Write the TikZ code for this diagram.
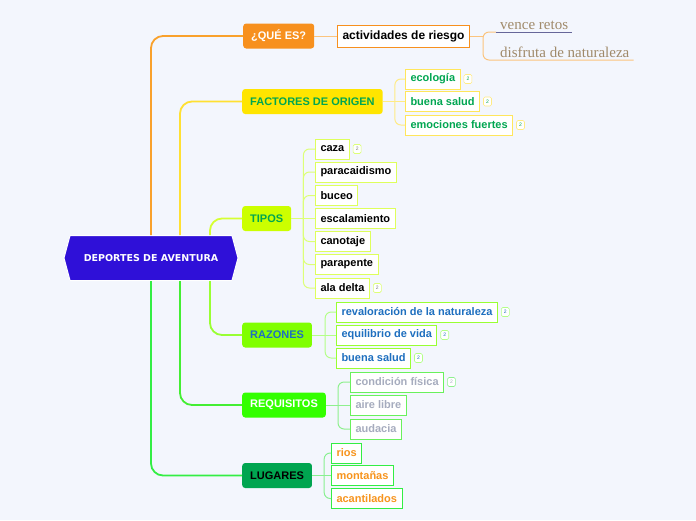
\documentclass[tikz,border=0pt]{standalone}
\usepackage{fontspec}
\setmainfont{Liberation Sans}
\newfontfamily\hubfont{DejaVu Sans}
\newfontfamily\notefont{Liberation Serif}
\usetikzlibrary{shapes.symbols,positioning}

\definecolor{bgblue}{HTML}{F3F6FD}
\definecolor{hubblue}{HTML}{2F10D8}
\definecolor{queorange}{HTML}{F7901E}
\definecolor{queline}{HTML}{F9A12C}
\definecolor{quetwig}{HTML}{FBC47E}
\definecolor{facyellow}{HTML}{FFE500}
\definecolor{facline}{HTML}{FFE033}
\definecolor{factwig}{HTML}{FFEB85}
\definecolor{tiplime}{HTML}{CCFF00}
\definecolor{tipline}{HTML}{D6FF33}
\definecolor{tiptwig}{HTML}{DDFF77}
\definecolor{razgreen}{HTML}{80FF00}
\definecolor{razline}{HTML}{99FF33}
\definecolor{raztwig}{HTML}{B4FF88}
\definecolor{reqgreen}{HTML}{33FF00}
\definecolor{reqline}{HTML}{44EE33}
\definecolor{reqtwig}{HTML}{8EF08E}
\definecolor{lugdark}{HTML}{00A550}
\definecolor{lugline}{HTML}{33EE44}
\definecolor{lugtwig}{HTML}{88F090}
\definecolor{txtgreen}{HTML}{00A651}
\definecolor{txtblue}{HTML}{1E6FBF}
\definecolor{txtgray}{HTML}{A6ACBE}
\definecolor{txtorange}{HTML}{F7941D}
\definecolor{txttan}{HTML}{A08A6A}

\begin{document}
\begin{tikzpicture}[x=1pt,y=-1pt,
  hub/.style={signal,signal to=west and east,signal pointer angle=150,fill=hubblue,draw=white,line width=1pt,
    minimum width=174,minimum height=45,inner sep=0pt,text=white,font=\hubfont\bfseries\fontsize{9.5}{11}\selectfont},
  branch/.style={rounded corners=3pt,minimum height=25,inner xsep=8pt,anchor=west,font=\bfseries\fontsize{11}{13}\selectfont},
  leaf/.style={draw,fill=white,line width=1pt,minimum height=20,inner xsep=5pt,inner ysep=0pt,anchor=west,font=\bfseries\fontsize{11}{13}\selectfont},
  facleaf/.style={leaf,draw=facline!80,text=txtgreen},
  tipleaf/.style={leaf,draw=tipline!80,text=black},
  razleaf/.style={leaf,draw=razline,text=txtblue},
  reqleaf/.style={leaf,draw=reqline!80,text=txtgray},
  lugleaf/.style={leaf,draw=lugline,text=txtorange},
  badge/.style={draw,fill=white,rounded corners=1.5pt,minimum width=8,minimum height=9,inner sep=0pt,line width=0.6pt,
    font=\fontsize{5}{5}\selectfont,right=3pt of #1},
  note/.style={anchor=south west,inner xsep=4pt,inner ysep=2pt,text=txttan,font=\notefont\fontsize{15}{17}\selectfont},
  spine/.style={line width=1.8pt,rounded corners=12pt},
  twig/.style={line width=1pt,rounded corners=6pt}
]
  \fill[bgblue] (0,0) rectangle (696,520);
  \useasboundingbox (0,0) rectangle (696,520);

  % Central topic
  \node[hub] (hub) at (151,258) {DEPORTES DE AVENTURA};

  % Main branches
  \node[branch,fill=queorange,text=white]    (que) at (243,36)    {¿QUÉ ES?};
  \node[branch,fill=facyellow,text=txtgreen] (fac) at (242,101.5) {FACTORES DE ORIGEN};
  \node[branch,fill=tiplime,text=txtgreen]   (tip) at (242,218.5) {TIPOS};
  \node[branch,fill=razgreen,text=txtblue]   (raz) at (242,335)   {RAZONES};
  \node[branch,fill=reqgreen,text=white]     (req) at (242,405)   {REQUISITOS};
  \node[branch,fill=lugdark,text=black]      (lug) at (242,475.5) {LUGARES};

  % Spines from the centre
  \draw[spine,queline] (hub.north) |- (que.west);
  \draw[spine,facline] ([xshift=29]hub.north) |- (fac.west);
  \draw[spine,tipline] ([xshift=59]hub.north) |- (tip.west);
  \draw[spine,razline] ([xshift=59]hub.south) |- (raz.west);
  \draw[spine,reqline] ([xshift=29]hub.south) |- (req.west);
  \draw[spine,lugline] (hub.south) |- (lug.west);

  % ¿QUÉ ES?
  \node[leaf,draw=queorange,text=black,minimum height=22,font=\bfseries\fontsize{12}{14}\selectfont] (act) at (337,36) {actividades de riesgo};
  \node[note] (vence) at (496,32) {vence retos};
  \node[note] (disf)  at (496,60) {disfruta de naturaleza};
  \coordinate (act-j) at ([xshift=13]act.east);
  \draw[twig,quetwig] (que.east) -- (act.west);
  \draw[twig,quetwig] (act.east) -- (act-j);
  \draw[twig,quetwig] (vence.south west) -- (vence.south west -| act-j) -- (disf.south west -| act-j) -- (disf.south east);
  \draw[gray!80!blue,line width=1pt] (vence.south west) -- (vence.south east);

  % FACTORES DE ORIGEN
  \node[facleaf] (eco)  at (405,79)    {ecología};
  \node[facleaf] (bsal) at (405,101.5) {buena salud};
  \node[facleaf] (emo)  at (405,125)   {emociones fuertes};
  \coordinate (fac-j) at ([xshift=12]fac.east);
  \draw[twig,factwig] (fac.east) -- (bsal.west);
  \foreach \c in {eco,emo}{
    \draw[twig,factwig] (fac-j) |- (\c.west);
  }
  \foreach \c in {eco,bsal,emo}{
    \node[badge=\c,draw=factwig,text=txtgreen] (\c-n) {2};
  }

  % TIPOS
  \node[tipleaf] (caza) at (315,149)   {caza};
  \node[tipleaf] (para) at (315,172)   {paracaidismo};
  \node[tipleaf] (buce) at (315,195.5) {buceo};
  \node[tipleaf] (esca) at (315,218.5) {escalamiento};
  \node[tipleaf] (cano) at (315,241.5) {canotaje};
  \node[tipleaf] (parp) at (315,264.5) {parapente};
  \node[tipleaf] (alad) at (315,288)   {ala delta};
  \coordinate (tip-j) at ([xshift=12]tip.east);
  \draw[twig,tiptwig] (tip.east) -- (esca.west);
  \foreach \c in {caza,para,buce,cano,parp,alad}{
    \draw[twig,tiptwig] (tip-j) |- (\c.west);
  }
  \node[badge=caza,draw=tiptwig,text=gray] (caza-n) {2};
  \node[badge=alad,draw=tiptwig,text=gray] (alad-n) {2};

  % RAZONES
  \node[razleaf] (reva) at (336,312) {revaloración de la naturaleza};
  \node[razleaf] (equi) at (336,335) {equilibrio de vida};
  \node[razleaf] (bsa2) at (336,358) {buena salud};
  \coordinate (raz-j) at ([xshift=13]raz.east);
  \draw[twig,raztwig] (raz.east) -- (equi.west);
  \foreach \c in {reva,bsa2}{
    \draw[twig,raztwig] (raz-j) |- (\c.west);
  }
  \foreach \c in {reva,equi,bsa2}{
    \node[badge=\c,draw=raztwig,text=txtblue] (\c-n) {2};
  }

  % REQUISITOS
  \node[reqleaf] (cond) at (350,382) {condición física};
  \node[reqleaf] (aire) at (350,405) {aire libre};
  \node[reqleaf] (auda) at (350,429) {audacia};
  \coordinate (req-j) at ([xshift=12]req.east);
  \draw[twig,reqtwig] (req.east) -- (aire.west);
  \foreach \c in {cond,auda}{
    \draw[twig,reqtwig] (req-j) |- (\c.west);
  }
  \node[badge=cond,draw=reqtwig,text=txtgray] (cond-n) {2};

  % LUGARES
  \node[lugleaf] (rios) at (331,453)   {rios};
  \node[lugleaf] (mont) at (331,475.5) {montañas};
  \node[lugleaf] (acan) at (331,498.5) {acantilados};
  \coordinate (lug-j) at ([xshift=12]lug.east);
  \draw[twig,lugtwig] (lug.east) -- (mont.west);
  \foreach \c in {rios,acan}{
    \draw[twig,lugtwig] (lug-j) |- (\c.west);
  }
\end{tikzpicture}
\end{document}
